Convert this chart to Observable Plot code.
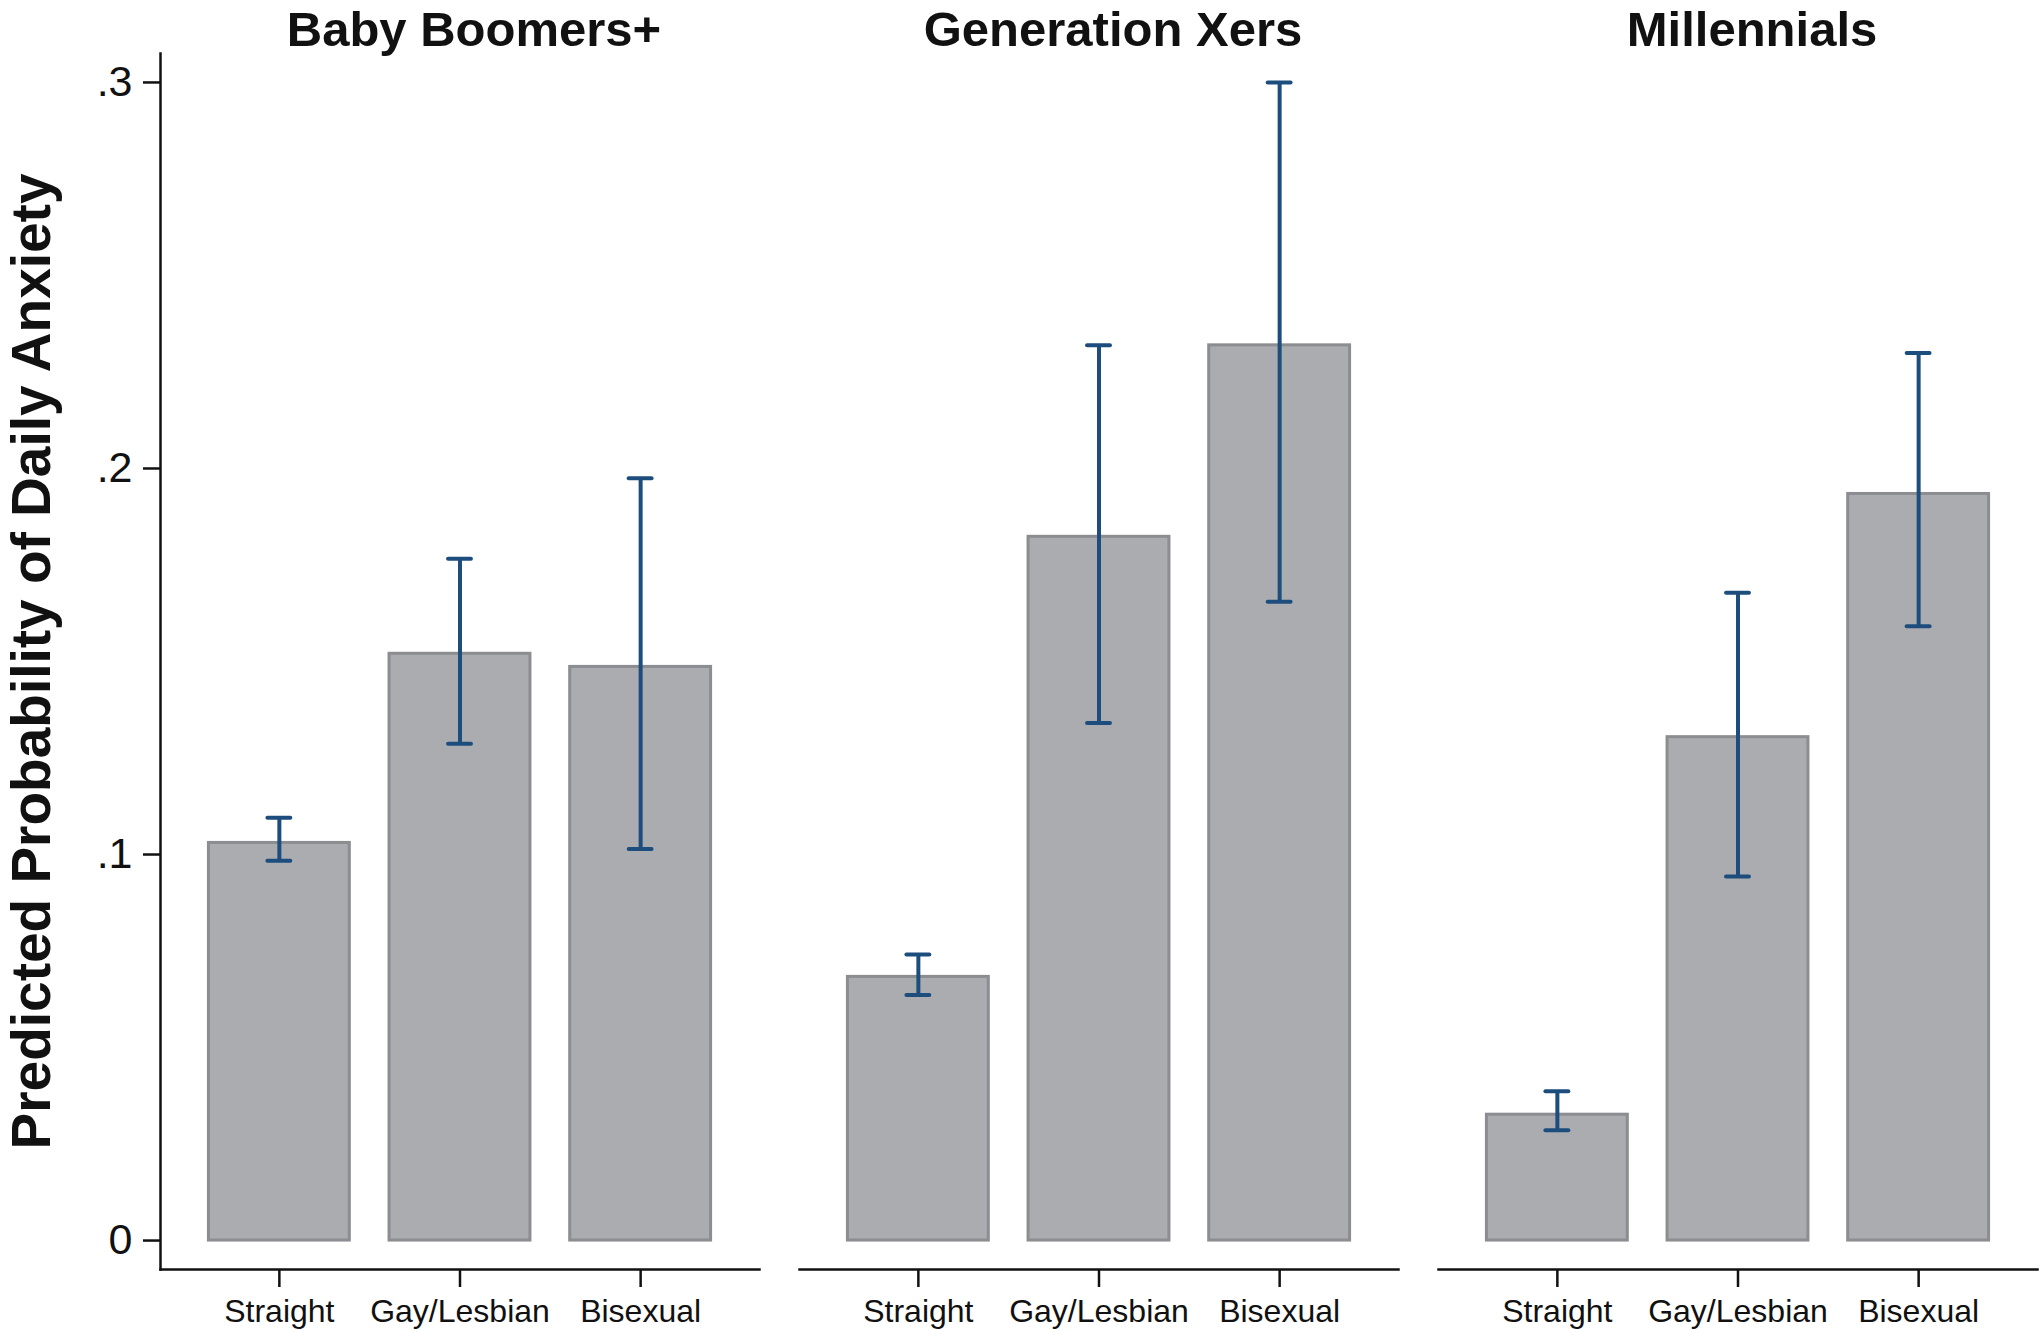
<!DOCTYPE html>
<html>
<head>
<meta charset="utf-8">
<script src="https://cdn.jsdelivr.net/npm/d3@7"></script>
<script src="https://cdn.jsdelivr.net/npm/@observablehq/plot@0.6"></script>
<style>
  html, body { margin: 0; padding: 0; background: #fff; }
  #chart svg { display: block; }
</style>
</head>
<body>
<div id="chart"></div>
<script>
const generations = ["Baby Boomers+", "Generation Xers", "Millennials"];
const orientations = ["Straight", "Gay/Lesbian", "Bisexual"];
const estimate = [
  [0.103, 0.152, 0.1486],
  [0.0683, 0.1823, 0.2319],
  [0.0326, 0.1304, 0.1934]
];
const lower = [
  [0.0984, 0.1287, 0.1014],
  [0.0636, 0.1341, 0.1655],
  [0.0286, 0.0943, 0.1591]
];
const upper = [
  [0.1095, 0.1766, 0.1975],
  [0.0741, 0.2319, 0.300],
  [0.0387, 0.1678, 0.2299]
];
const yTicks = [0, 0.1, 0.2, 0.3];
const yLabel = "Predicted Probability of Daily Anxiety";

const rows = [];
generations.forEach((g, i) => orientations.forEach((o, j) => {
  rows.push({gen: g, orient: o, est: estimate[i][j], lo: lower[i][j], hi: upper[i][j]});
}));

const font = "'Liberation Sans', Arial, Helvetica, sans-serif";
const errColor = "#1c4d7d";

const chart = Plot.plot({
  width: 2040,
  height: 1330,
  marginLeft: 160,
  marginRight: 3,
  marginTop: 53,
  marginBottom: 61,
  style: {fontFamily: font, color: "#111", background: "#fff"},
  fx: {domain: generations, paddingInner: 0.0626, paddingOuter: 0, round: false},
  x: {domain: orientations, paddingInner: 0.22, paddingOuter: 0.268, round: false},
  y: {domain: [-0.0075, 0.3075]},
  marks: [
    Plot.barY(rows, {fx: "gen", x: "orient", y: "est", fill: "#abacb0", stroke: "#8c8d91", strokeWidth: 3}),
    Plot.ruleX(rows, {fx: "gen", x: "orient", y1: "lo", y2: "hi", stroke: errColor, strokeWidth: 4}),
    Plot.tickY(rows, {fx: "gen", x: "orient", y: "lo", stroke: errColor, strokeWidth: 4, strokeLinecap: "round", insetLeft: 59, insetRight: 59}),
    Plot.tickY(rows, {fx: "gen", x: "orient", y: "hi", stroke: errColor, strokeWidth: 4, strokeLinecap: "round", insetLeft: 59, insetRight: 59}),
    Plot.frame({anchor: "bottom", stroke: "#111", strokeWidth: 2.5}),
    Plot.frame({anchor: "left", facetAnchor: "left", stroke: "#111", strokeWidth: 2.5}),
    Plot.axisY({
      ticks: yTicks,
      tickFormat: d => d === 0 ? "0" : d3.format(".1f")(d).replace(/^0/, ""),
      tickSize: 17, tickPadding: 11, fontSize: 43, strokeWidth: 2.5,
      label: yLabel, labelAnchor: "center", labelArrow: "none", labelOffset: 150
    }),
    Plot.axisX({tickSize: 18, tickPadding: 12, fontSize: 32, strokeWidth: 2.5, label: null}),
    Plot.axisFx({anchor: "top", tickSize: 0, tickPadding: 8, fontSize: 49, fontWeight: "bold", label: null, dx: 14})
  ]
});

document.getElementById("chart").appendChild(chart);
chart.querySelectorAll("g[aria-label='y-axis label'] text").forEach(t => {
  t.setAttribute("font-size", 55);
  t.setAttribute("font-weight", "bold");
});
</script>
</body>
</html>
